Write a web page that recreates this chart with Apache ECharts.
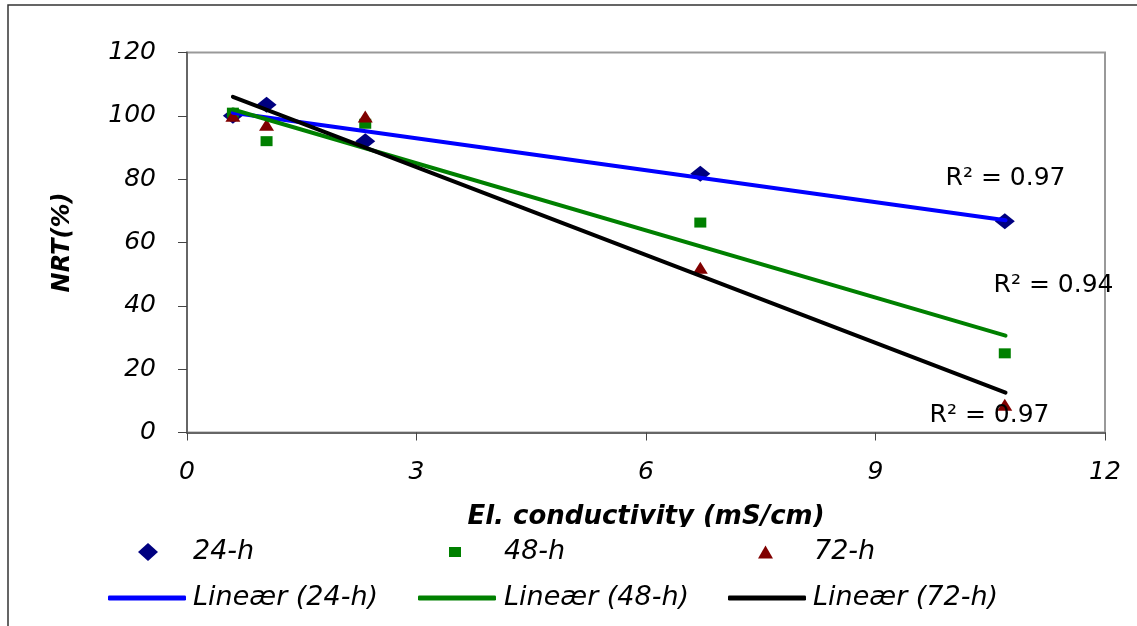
<!DOCTYPE html>
<html>
<head>
<meta charset="utf-8">
<title>NRT vs conductivity</title>
<script src="https://cdn.jsdelivr.net/npm/echarts@6/dist/echarts.min.js"></script>
<style>
  html, body { margin: 0; padding: 0; background: #fff; }
  #chart { width: 1137px; height: 626px; }
</style>
</head>
<body>
<div id="chart"></div>
<script>
// conductivity of each sample (mS/cm), shared by all three exposure times
var conductivity = [0.6, 1.04, 2.33, 6.71, 10.69];

// NRT (%) measured per exposure time
var nrt24 = [100, 103.5, 92, 81.7, 66.7];
var nrt48 = [101, 92, 97.5, 66.3, 25];
var nrt72 = [100, 97.2, 99.8, 52, 8.8];

// linear trend lines (start / end points)
var trendX = [0.6, 10.7];
var trend24 = [101, 67];
var trend48 = [102, 30.6];
var trend72 = [106, 12.6];
var rSquared = ["0.97", "0.94", "0.97"];

var xTicks = [0, 3, 6, 9, 12];
var yTicks = [0, 20, 40, 60, 80, 100, 120];

var FONT = "DejaVu Sans";

function pairs(xs, ys) {
  return xs.map(function (x, i) { return [x, ys[i]]; });
}

function trendData(ys, r2, offset) {
  return [
    [trendX[0], ys[0]],
    {
      value: [trendX[1], ys[1]],
      label: {
        show: true,
        position: "inside",
        align: "center",
        verticalAlign: "middle",
        offset: offset,
        formatter: "R\u00b2 = " + r2,
        color: "#000",
        fontFamily: FONT,
        fontSize: 25
      }
    }
  ];
}

function scatter(name, data, symbol, size, color) {
  return {
    name: name,
    type: "scatter",
    data: data,
    symbol: symbol,
    symbolSize: size,
    itemStyle: { color: color, opacity: 1 },
    z: 2
  };
}

function trend(name, data, color) {
  return {
    name: name,
    type: "line",
    data: data,
    symbol: "circle",
    symbolSize: 0.1,
    showSymbol: true,
    itemStyle: { color: color },
    lineStyle: { color: color, width: 4, cap: "round" },
    z: 3
  };
}

function legendItem(name, icon, left, top, w, h, pad) {
  return {
    data: [{ name: name, icon: icon }],
    left: left,
    top: top,
    padding: 0,
    itemWidth: w,
    itemHeight: h,
    textStyle: {
      fontFamily: FONT,
      fontStyle: "italic",
      fontSize: 27,
      color: "#000",
      lineHeight: 30,
      padding: [0, 0, 0, pad]
    },
    selectedMode: false
  };
}

var myChart = echarts.init(document.getElementById("chart"));

var option = {
  backgroundColor: "#fff",
  animation: false,
  grid: {
    left: 187,
    right: 32,
    top: 52.5,
    bottom: 193.5,
    show: true,
    borderColor: "#999",
    borderWidth: 2,
    backgroundColor: "#fff"
  },
  xAxis: {
    type: "value",
    min: xTicks[0],
    max: xTicks[xTicks.length - 1],
    interval: 3,
    name: "El. conductivity (mS/cm)",
    nameLocation: "middle",
    nameGap: 72,
    nameTextStyle: {
      fontFamily: FONT,
      fontStyle: "italic",
      fontWeight: "bold",
      fontSize: 26,
      color: "#000"
    },
    axisLine: { show: true, lineStyle: { color: "#666", width: 2 } },
    axisTick: { show: true, length: 8, lineStyle: { color: "#444", width: 1 } },
    axisLabel: {
      margin: 27,
      fontFamily: FONT,
      fontStyle: "italic",
      fontSize: 25,
      color: "#000"
    },
    splitLine: { show: false }
  },
  yAxis: {
    type: "value",
    min: yTicks[0],
    max: yTicks[yTicks.length - 1],
    interval: 20,
    name: "NRT(%)",
    nameLocation: "middle",
    nameGap: 112,
    nameTextStyle: {
      fontFamily: FONT,
      fontStyle: "italic",
      fontWeight: "bold",
      fontSize: 24,
      color: "#000"
    },
    axisLine: { show: true, lineStyle: { color: "#666", width: 2 } },
    axisTick: { show: true, length: 9, lineStyle: { color: "#444", width: 1 } },
    axisLabel: {
      margin: 31,
      fontFamily: FONT,
      fontStyle: "italic",
      fontSize: 25,
      color: "#000"
    },
    splitLine: { show: false }
  },
  legend: [
    legendItem("24-h", "diamond", 138, 537, 20, 18, 30),
    legendItem("48-h", "rect", 449, 537, 12, 10, 38),
    legendItem("72-h", "triangle", 758, 537, 15, 13, 36),
    legendItem("Lineær (24-h)", "roundRect", 108, 583, 78, 5, 2),
    legendItem("Lineær (48-h)", "roundRect", 418, 583, 78, 5, 3),
    legendItem("Lineær (72-h)", "roundRect", 728, 583, 78, 5, 2)
  ],
  graphic: [
    {
      // outer chart frame
      type: "rect",
      shape: { x: 8, y: 5, width: 1140, height: 640 },
      style: { fill: "none", stroke: "#333", lineWidth: 1.5 },
      silent: true,
      z: 100
    },
    {
      // the axis title's descenders are clipped by the legend area
      type: "rect",
      shape: { x: 420, y: 527, width: 450, height: 9 },
      style: { fill: "#fff" },
      silent: true,
      z: 100
    }
  ],
  series: [
    scatter("24-h", pairs(conductivity, nrt24), "diamond", [20, 16], "#000080"),
    scatter("48-h", pairs(conductivity, nrt48), "rect", [12, 10], "#008000"),
    scatter("72-h", pairs(conductivity, nrt72), "triangle", [15, 12], "#800000"),
    trend("Lineær (24-h)", trendData(trend24, rSquared[0], [0, -42]), "#0000ff"),
    trend("Lineær (48-h)", trendData(trend48, rSquared[1], [48, -50]), "#008000"),
    trend("Lineær (72-h)", trendData(trend72, rSquared[2], [-16, 23]), "#000000")
  ]
};

myChart.setOption(option);

window.addEventListener("resize", function () {
  myChart.resize();
});
</script>
</body>
</html>
